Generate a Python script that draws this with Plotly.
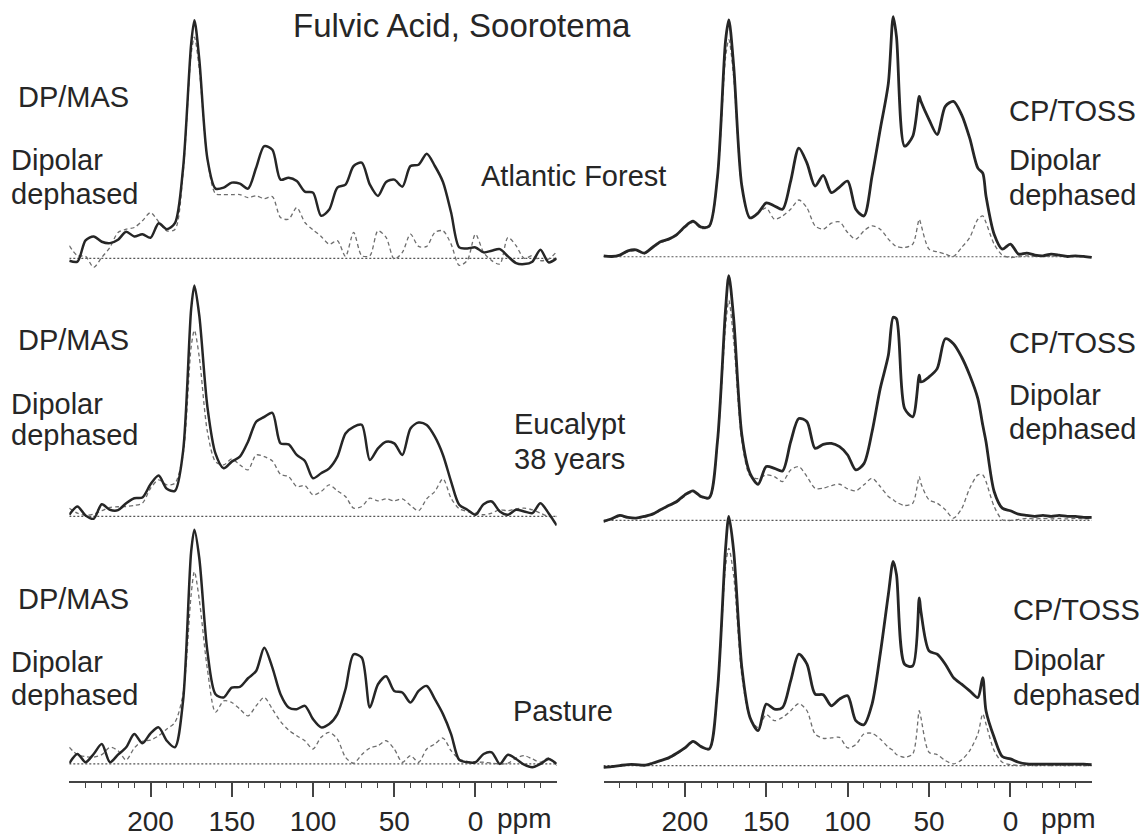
import plotly.graph_objects as go

# ---------------- data (ppm grids and intensities, arbitrary units) ----------------
PPM_DP = [250, 245, 240, 235, 230, 225, 220, 215, 210, 205, 200, 195, 190, 185, 180, 175, 173,
          170, 165, 160, 155, 150, 145, 140, 135, 130, 125, 120, 115, 110, 105, 100, 95, 90, 85,
          80, 75, 70, 65, 60, 55, 50, 45, 40, 35, 30, 25, 20, 15, 10, 5, 0, -5, -10, -15, -20,
          -25, -30, -35, -40, -45, -50]

PPM_CP = [250, 245, 240, 235, 230, 225, 220, 215, 210, 205, 200, 195, 190, 185, 180, 175, 173,
          170, 165, 160, 155, 150, 145, 140, 135, 130, 125, 120, 115, 110, 105, 100, 95, 90, 85,
          80, 75, 72, 70, 65, 60, 56, 55, 50, 45, 40, 35, 30, 25, 20, 17, 15, 10, 5, 0, -5, -10,
          -15, -20, -25, -30, -35, -40, -45, -50]

# DP/MAS, Atlantic Forest
dp_forest = [-2.3, -3.3, 18, 22, 16.7, 15.3, 18.7, 26.7, 22, 24.3, 20.7, 35.3, 29.3, 35.3, 90, 215, 239,
             200, 100, 70, 71, 76, 75, 70, 91, 112.7, 109, 79, 81, 77.7, 67, 66, 42.7, 49, 71,
             74, 92.7, 96, 74, 62.7, 76.7, 79, 72, 92.7, 94, 105, 92.7, 76.7, 46, 11, 10, 11, 6, 7.7, 9.3, 2,
             -4.7, -5.7, -3.3, 8.7, -4, 0]
dp_forest_dd = [12.7, 2.7, 2, -9, 1, 11, 26, 29.3, 31, 37.7, 46, 36.7, 27.7, 29, 85, 205, 222,
                190, 100, 65, 64, 64, 64, 61, 62.7, 60, 62, 41, 39.3, 51, 36, 28.7, 22, 14.3, 17.7,
                2, 26, 2.7, 2.7, 27.7, 21, -0.7, 6, 24.3, 12, 12, 26, 27.7, 14.3, -7, -2, 24.3, 6, -2.3, -5.7, 21,
                12.7, 0, 2.7, -2.3, -0.7, 6.7]

# DP/MAS, Eucalypt 38 years
dp_euc = [1.7, 10, 1, -2.3, 12.3, 6.7, 6.3, 13.3, 18.3, 19, 32.3, 41, 27.7, 25.7, 65, 208, 231.7,
          201.7, 110, 63, 48.3, 55, 60, 75, 95, 100, 104, 73.3, 72.3, 61.7, 55.7, 38.3, 43.3, 48.3, 60,
          83.3, 90, 92, 56.7, 68.3, 75, 73.3, 61.7, 88.3, 94.3, 91.7, 80, 61.7, 35, 11.7, 6.7, 1.7, 12.3, 15, 5, 1.7,
          6.7, 5, 3.3, 13.3, 3.3, -9]
dp_euc_dd = [8.3, 3.3, 1, 2.3, 5.7, 9, 9.7, 10, 11, 13.3, 28.3, 36.7, 31.7, 33.3, 62, 170, 186.7,
             160, 85, 55, 51.7, 57.7, 51.7, 46.7, 61.7, 60, 55.7, 42.3, 40, 30, 31, 21.7, 25, 31.7, 25.7,
             20, 8.3, 10, 18.3, 15.7, 17.7, 15.7, 17.7, 11, 5.7, 17.7, 25, 37.7, 18.3, 7.7, 5, 3.3, 1.7, 3.3, 6.7, 5.7,
             7.7, 8.3, 6.7, 3.3, 0, 0]

# DP/MAS, Pasture
dp_past = [0.7, 10, 1.7, 10, 20, 1.7, 9.3, 16.7, 30, 20.7, 30.7, 36.7, 23.3, 16.7, 63, 213, 235,
           206.7, 113, 70, 66.7, 76.7, 77.3, 86, 93.3, 116.7, 96.7, 70, 56.7, 55, 58.3, 45, 36.7, 40, 50,
           75, 110, 106.7, 56.7, 80, 88, 73.3, 71.7, 61.7, 73.3, 78.3, 65, 50, 30, 4, 1.7, 1.7, 10, 11.7, 0, 9.3,
           5, -0.7, -3.3, 0, 5, 0]
dp_past_dd = [16.7, 9.3, 7.3, 6.7, 9.3, 16.7, 13.3, 4, 16, 22.7, 24, 28.3, 35, 41.7, 70, 170, 193,
              165, 95, 52, 63.3, 61.7, 55, 48.3, 58.3, 66.7, 55, 42.7, 34, 28.3, 23.3, 15, 26.7, 31.7, 25,
              6.7, 0.7, 9.3, 16, 18.3, 23.3, 15, 1.7, 8.3, 1.7, 15, 20, 26, 13.3, 5, 2.7, 1.7, 1.7, 0.7, 0, 0.7,
              6, 8.3, 5, 1.7, 6, -1.7]

# CP/TOSS, Atlantic Forest
cp_forest = [1, 0.3, 1.7, 6, 7, 3.7, 9.3, 15, 17.7, 22.3, 30.3, 35.7, 29.7, 31, 80, 217, 237.7,
             191, 71, 39, 44, 54, 51, 47.7, 76, 109, 94, 71, 81.7, 64.3, 70, 76, 47.7, 41, 81,
             127.7, 174, 241, 221, 111, 121, 161, 156, 137.7, 122.7, 151, 156, 142.7, 119, 89, 84, 61, 22.7, 7.7, 12.7,
             2.7, 3.7, 1.7, 1, 2.7, 1.7, 0.3, 1, 0.3, -0.7]
cp_forest_dd = [0.5, 0, 1.5, 5, 6, 3, 8.5, 14, 17, 21.5, 29, 34.5, 28.5, 30, 78, 200, 218,
                180, 70, 39, 44, 49, 37.7, 41, 47.7, 57, 49, 31, 27.7, 33.7, 35, 24.3, 17.7, 26, 31,
                27.7, 17.7, 12.7, 10.3, 9.3, 12.7, 37.7, 32.7, 7.7, 5, 2.7, 0.3, 9.3, 19.3, 37.7, 41, 34.3, 12.7, 1.7, -0.7,
                0, 1, 0.5, 1, 0.5, 1, 0.5, 1, 0.5, 0]

# CP/TOSS, Eucalypt 38 years
cp_euc = [-1, 1.7, 5, 3, 2.3, 4, 6.3, 10.7, 15, 19, 25.7, 29.7, 24, 23, 79, 212, 245.7,
          202, 85.7, 47.3, 36.3, 54, 52.3, 49.7, 79, 102.3, 99, 72.3, 76.3, 77.3, 74, 65.7, 50.7, 57, 89,
          132.3, 165.7, 204, 202.3, 112.3, 104, 145.7, 139, 144, 152.3, 182.3, 177.3, 164, 145.7, 122.3, 95.7, 79, 29, 12.3, 9.7,
          6.3, 5, 4, 5, 4, 5, 4, 4, 3, 3]
cp_euc_dd = [-1.5, 1, 4, 2.5, 2, 3, 5.5, 10, 14, 18, 24.5, 28.5, 23, 22, 77, 195, 220.7,
             180, 80, 45, 42, 45.7, 44, 39, 50.7, 54, 44, 32.3, 32.3, 35, 36.3, 31.7, 29.7, 35.7, 42.3,
             34, 24, 20.7, 18.3, 15, 17.3, 44, 37.3, 20.7, 17.3, 10.7, 2.3, 11.7, 32.3, 45.7, 45.7, 39, 14, 0.7, 0,
             1, 2, 1.5, 2, 1.5, 2, 1.5, 2, 1.5, 1.5]

# CP/TOSS, Pasture
cp_past = [-1.7, -1, 0, 1, 1, 0.3, 2.3, 5, 7.7, 12.3, 17.7, 24.3, 19, 16.7, 75, 218, 250,
           215, 98.3, 48.3, 35, 61.7, 56.7, 58.3, 85, 111.7, 101.7, 71.7, 71, 60, 66.7, 70, 45, 41, 61.7,
           111.7, 171.7, 205, 191.7, 101.7, 100, 168.3, 155, 115, 111.7, 101.7, 88.3, 81.7, 75, 68.3, 88.3, 55, 28.3, 9, 6.7,
           3.3, 1.7, 1.5, 1.5, 1.5, 1.5, 1.5, 1.5, 1.5, 1]
cp_past_dd = [-2, -1.5, -0.5, 0.5, 0.5, 0, 2, 4.5, 7, 11.5, 17, 23.5, 18.5, 16, 73, 200, 218,
              190, 90, 48, 38, 51, 45, 48.3, 55, 62.3, 55, 31.7, 27.3, 27.7, 28.3, 17.7, 21, 31.7, 32.3,
              26.7, 18.3, 15, 11, 8.3, 11.7, 55, 48.3, 13.3, 11, 5, 1.7, 5.7, 15, 31.7, 51.7, 41.7, 15, 3.3, 1,
              0, 0.5, 0, 0.5, 0, 0.5, 0, 0.5, 0, 0]

TICK_VALS = [200, 150, 100, 50, 0]
TICK_TEXT = ["200", "150", "100", "50", "0"]
MINOR_VALS = [v for v in range(-40, 250, 10) if v % 50 != 0]

TITLE = "Fulvic Acid, Soorotema"

# ---------------- layout helpers ----------------
W, H = 1146, 837
FONT = "Liberation Sans, Arial, sans-serif"
SOLID = "#262626"
DASHED = "#6e6e6e"
TEXT = "#262626"

# (ppm, solid, dashed, column, baseline_px, top_px, bottom_px, bottom_axis)
panels = [
    (PPM_DP, dp_forest, dp_forest_dd, 0, 259.3, 5, 275, False),
    (PPM_CP, cp_forest, cp_forest_dd, 1, 257.7, 5, 275, False),
    (PPM_DP, dp_euc, dp_euc_dd, 0, 518.3, 270, 535, False),
    (PPM_CP, cp_euc, cp_euc_dd, 1, 522.3, 270, 535, False),
    (PPM_DP, dp_past, dp_past_dd, 0, 766.7, 515, 783.5, True),
    (PPM_CP, cp_past, cp_past_dd, 1, 768.3, 515, 783.5, True),
]
col_px = [(69.3, 556.7), (603.5, 1091.8)]

fig = go.Figure()
layout = dict(
    width=W, height=H, margin=dict(l=0, r=0, t=0, b=0),
    paper_bgcolor="white", plot_bgcolor="white", showlegend=False,
)

for i, (ppm, solid, dashed, col, base, top, bot, show_axis) in enumerate(panels, start=1):
    if len(ppm) != len(solid) or len(ppm) != len(dashed):
        raise ValueError(f"panel {i}: lengths {len(ppm)} {len(solid)} {len(dashed)}")
    xs = "x" if i == 1 else f"x{i}"
    ys = "y" if i == 1 else f"y{i}"
    xa = "xaxis" if i == 1 else f"xaxis{i}"
    ya = "yaxis" if i == 1 else f"yaxis{i}"
    x0, x1 = col_px[col]
    layout[xa] = dict(
        domain=[x0 / W, x1 / W], range=[250, -50], anchor=ys,
        showgrid=False, zeroline=False, fixedrange=True,
    )
    if show_axis:
        layout[xa].update(
            visible=True, showline=True, linecolor="#444", linewidth=1.5,
            ticks="outside", tickmode="array", tickvals=TICK_VALS, ticktext=TICK_TEXT,
            ticklen=15, tickwidth=1.5, tickcolor="#444",
            tickfont=dict(family=FONT, size=28, color=TEXT),
            minor=dict(tickmode="array", tickvals=MINOR_VALS, ticklen=6,
                       tickwidth=1.3, tickcolor="#444", ticks="outside", showgrid=False),
        )
    else:
        layout[xa].update(visible=False)
    layout[ya] = dict(
        domain=[1 - bot / H, 1 - top / H], range=[-(bot - base), base - top],
        anchor=xs, visible=False, showgrid=False, zeroline=False, fixedrange=True,
    )
    # baseline
    fig.add_trace(go.Scatter(x=[250, -50], y=[0, 0], xaxis=xs, yaxis=ys, mode="lines",
                             line=dict(color="#555", width=1.2, dash="2px,2px"), hoverinfo="skip"))
    # dipolar dephased (dashed)
    fig.add_trace(go.Scatter(x=ppm, y=dashed, xaxis=xs, yaxis=ys, mode="lines",
                             line=dict(color=DASHED, width=1.3, dash="4px,3px", shape="spline",
                                       smoothing=0.8)))
    # full spectrum (solid)
    fig.add_trace(go.Scatter(x=ppm, y=solid, xaxis=xs, yaxis=ys, mode="lines",
                             line=dict(color=SOLID, width=2.8 if col == 1 else 2.5,
                                       shape="spline", smoothing=0.8)))

fig.update_layout(**layout)


def label(text, x_px, y_px, size=29, anchor="left"):
    fig.add_annotation(text=text, x=x_px / W, y=1 - y_px / H, xref="paper", yref="paper",
                       xanchor=anchor, yanchor="middle", showarrow=False,
                       font=dict(family=FONT, size=size, color=TEXT))


label(TITLE, 462, 26, size=33, anchor="center")

# left side labels
for dp_y, d1_y, d2_y in [(97.5, 161, 195), (341.7, 405, 437), (601, 664, 697)]:
    label("DP/MAS", 16, dp_y)
    label("Dipolar", 9, d1_y)
    label("dephased", 9, d2_y)

# right side labels
for xr, cp_y, d1_y, d2_y in [(1007, 111, 161, 196), (1007, 344, 396, 431), (1011, 612, 662, 697)]:
    label("CP/TOSS", xr, cp_y)
    label("Dipolar", xr, d1_y)
    label("dephased", xr, d2_y)

# sample names
label("Atlantic Forest", 573, 177, anchor="center")
label("Eucalypt", 569, 426, anchor="center")
label("38 years", 569, 461, anchor="center")
label("Pasture", 563, 714, anchor="center")

# ppm unit labels
label("ppm", 495, 821, size=28)
label("ppm", 1039, 821, size=28)

fig.write_html("out.html", config={"displayModeBar": False},
               post_script="document.body.style.margin='0px';")
